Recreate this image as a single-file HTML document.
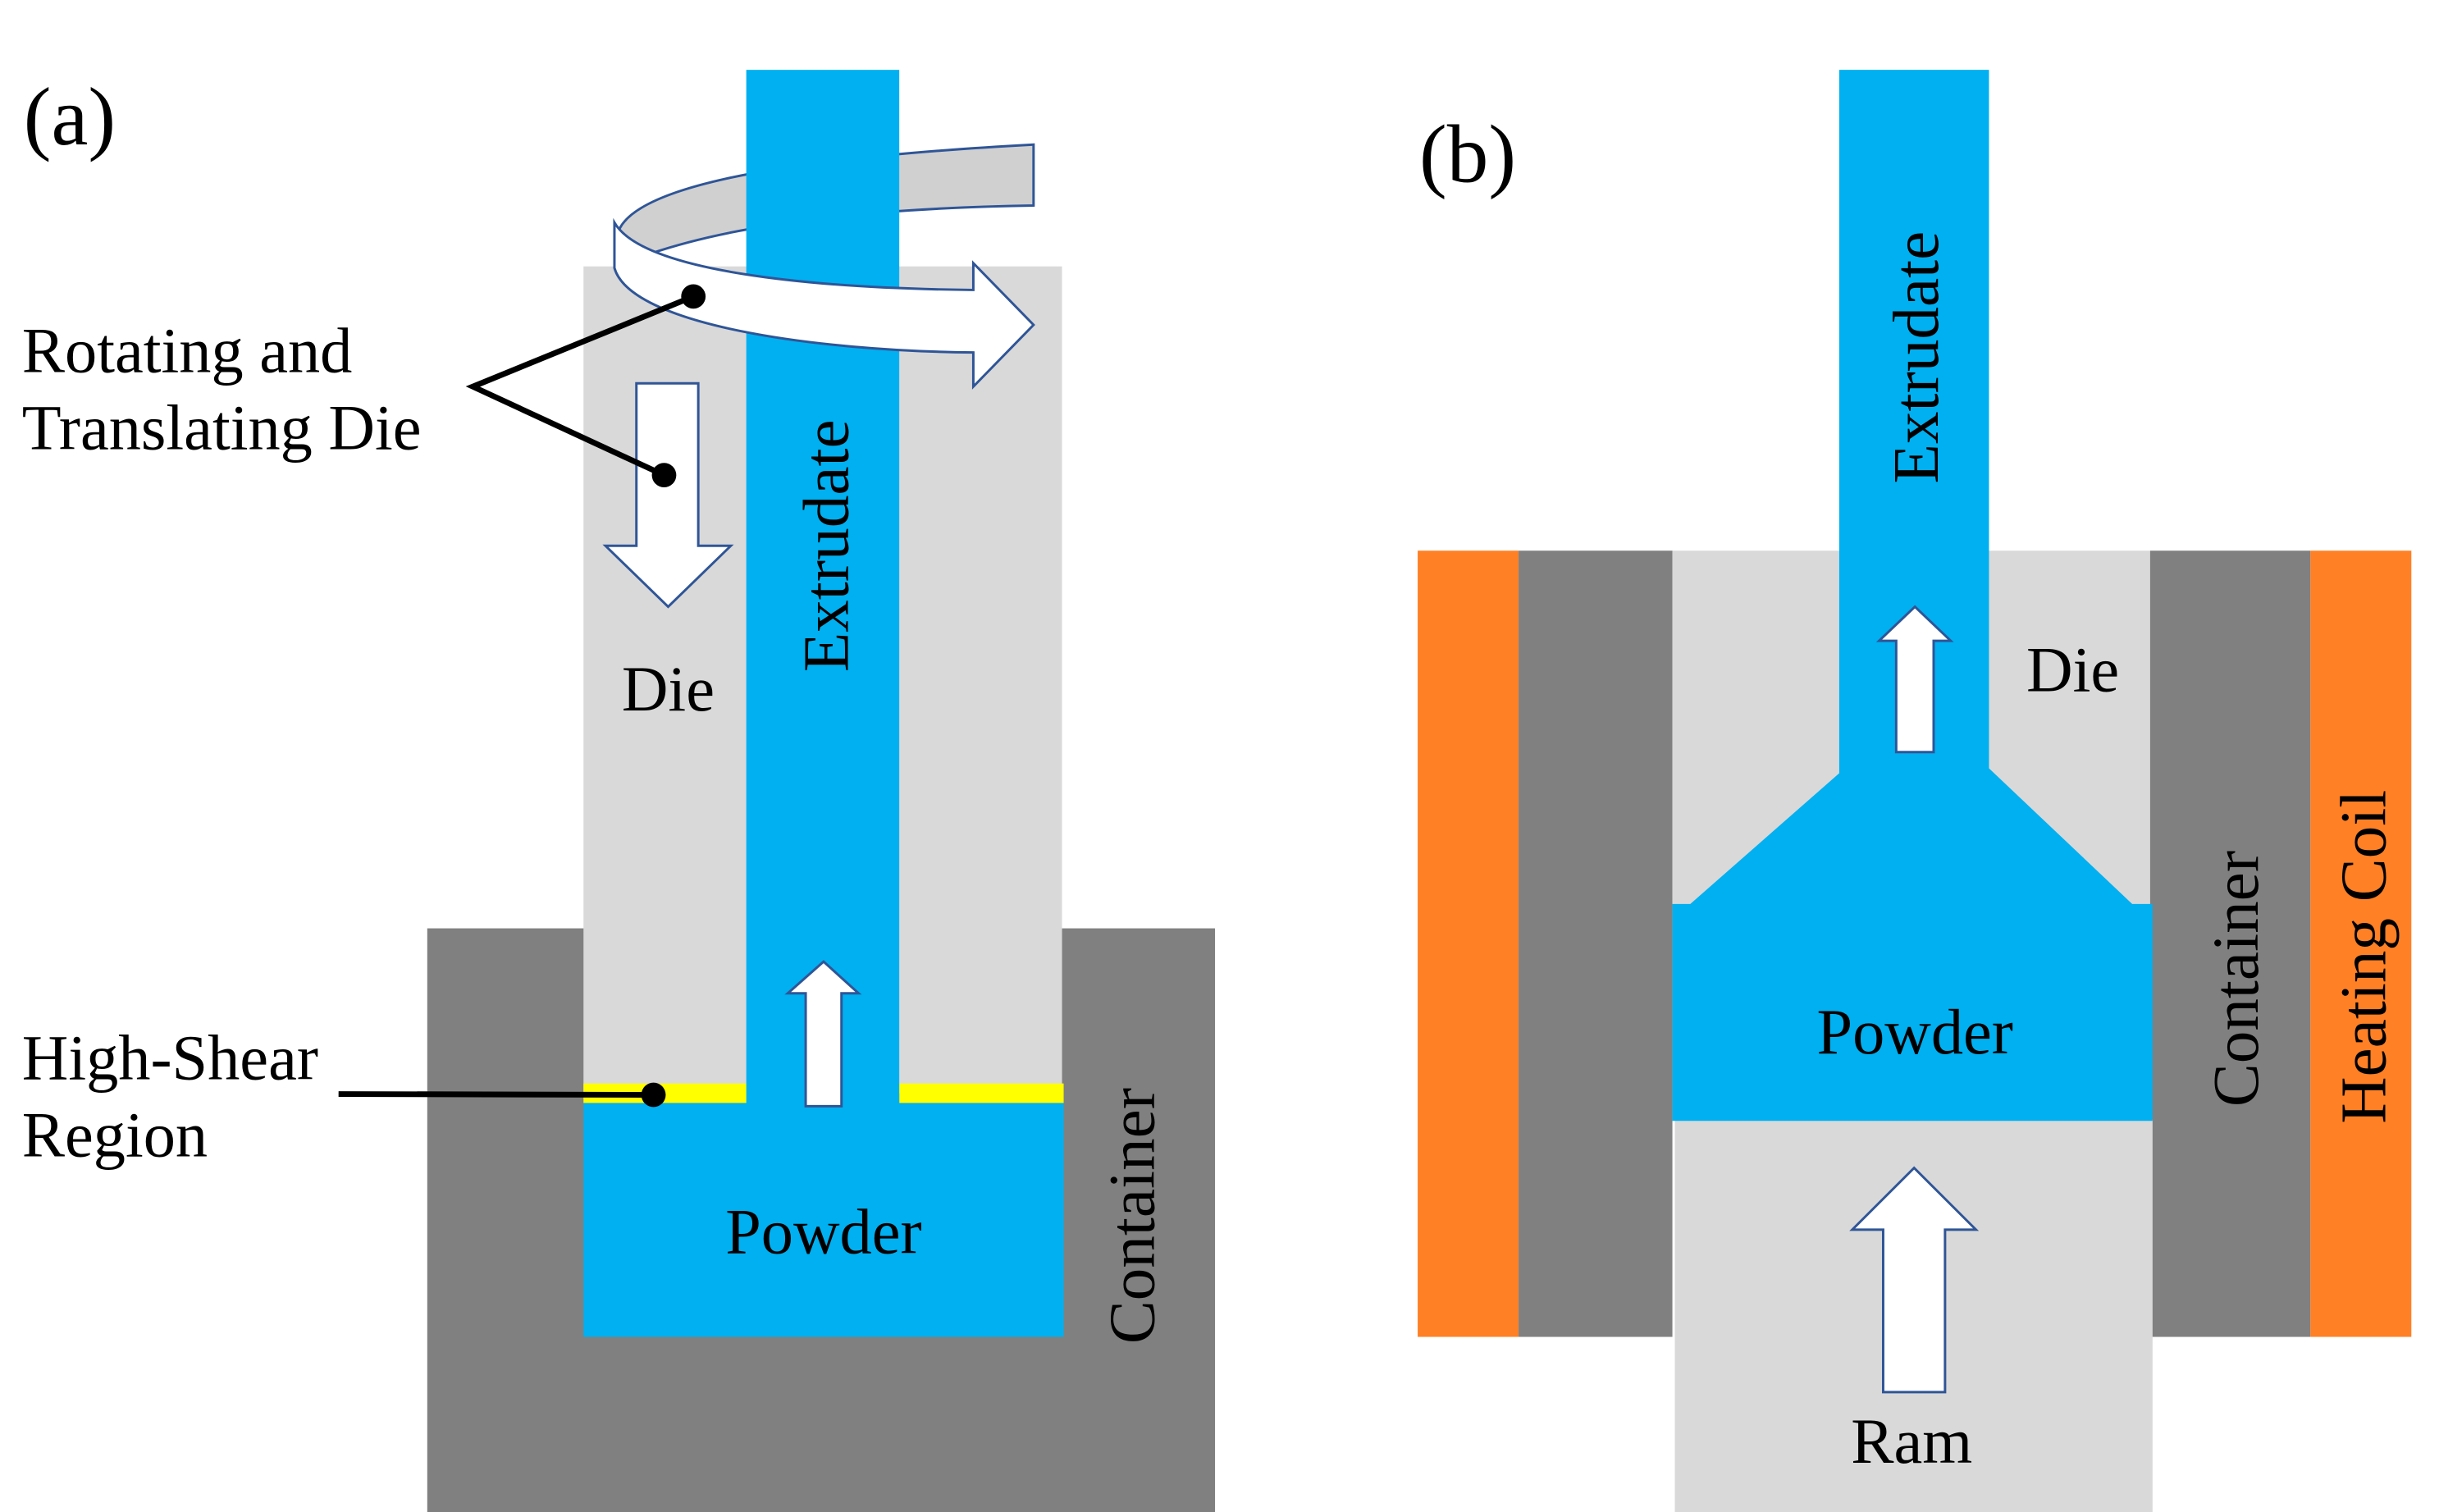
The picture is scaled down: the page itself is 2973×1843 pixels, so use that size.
<!DOCTYPE html>
<html><head><meta charset="utf-8"><style>
html,body{margin:0;padding:0;background:#fff}
svg{display:block}
text{font-family:"Liberation Serif",serif;fill:#000}
</style></head><body>
<svg width="2973" height="1843" viewBox="0 0 2973 1843" xmlns="http://www.w3.org/2000/svg">
<g transform="scale(0.992,0.99)">
<!-- Panel a -->
<rect x="525" y="1143" width="968" height="720" fill="#808080"/>
<rect x="717" y="328" width="588" height="1018" fill="#D9D9D9"/>
<rect x="717" y="1358" width="590" height="288" fill="#00B0F0"/>
<rect x="717" y="1334" width="202" height="24" fill="#FFFF00"/>
<rect x="1105" y="1334" width="202" height="24" fill="#FFFF00"/>
<path d="M1270,178 L1270,253 Q960,258 800,312 L758,292 Q770,205 1270,178 Z" fill="#D0D0D0" stroke="#2F5597" stroke-width="3"/>
<rect x="917" y="86" width="188" height="1274" fill="#00B0F0"/>
<path d="M755,274 L755,330 C775,400 1000,432 1196,434 L1196,476 L1270,400 L1196,324 L1196,357 C1000,355 790,335 755,274 Z" fill="#fff" stroke="#2F5597" stroke-width="3"/>
<path d="M782,472 L858,472 L858,672 L898,672 L821,747 L744,672 L782,672 Z" fill="#fff" stroke="#2F5597" stroke-width="3"/>
<path d="M990,1362 L1034,1362 L1034,1223 L1055,1223 L1012,1184 L968,1223 L990,1223 Z" fill="#fff" stroke="#2F5597" stroke-width="3"/>
<polyline points="852,365 581,476 816,585" fill="none" stroke="#000" stroke-width="7"/>
<circle cx="852" cy="365" r="15"/><circle cx="816" cy="585" r="15"/>
<line x1="416" y1="1347" x2="803" y2="1348" stroke="#000" stroke-width="7"/>
<circle cx="803" cy="1348" r="15"/>
<text x="29" y="178" font-size="102">(a)</text>
<text x="27" y="458" font-size="79">Rotating and</text>
<text x="27" y="553" font-size="79">Translating Die</text>
<text x="27" y="1329" font-size="79">High-Shear</text>
<text x="27" y="1424" font-size="79">Region</text>
<text x="821" y="875" font-size="79" text-anchor="middle">Die</text>
<text x="1012" y="1543" font-size="79" text-anchor="middle">Powder</text>
<text transform="translate(1042,672) rotate(-90)" font-size="80" text-anchor="middle">Extrudate</text>
<text transform="translate(1418,1497) rotate(-90)" font-size="80" text-anchor="middle" fill="#111">Container</text>
<!-- Panel b -->
<g transform="translate(11,0)">
<rect x="1731" y="678" width="124" height="968" fill="#FF8025"/>
<rect x="1855" y="678" width="189" height="968" fill="#808080"/>
<rect x="2044" y="678" width="587" height="440" fill="#D9D9D9"/>
<rect x="2631" y="678" width="197" height="968" fill="#808080"/>
<rect x="2828" y="678" width="124" height="968" fill="#FF8025"/>
<rect x="2047" y="1378" width="587" height="485" fill="#D9D9D9"/>
<path d="M2249,86 L2433,86 L2433,946 L2609,1113 L2634,1113 L2634,1380 L2044,1380 L2044,1113 L2066,1113 L2249,952 Z" fill="#00B0F0"/>
<path d="M2319,926 L2365,926 L2365,789 L2386,789 L2342,747 L2298,789 L2319,789 Z" fill="#fff" stroke="#2F5597" stroke-width="3"/>
<path d="M2303,1714 L2379,1714 L2379,1514 L2417,1514 L2341,1438 L2265,1514 L2303,1514 Z" fill="#fff" stroke="#2F5597" stroke-width="3"/>
<text x="1733" y="224" font-size="102">(b)</text>
<text x="2536" y="851" font-size="79" text-anchor="middle">Die</text>
<text x="2342" y="1297" font-size="79" text-anchor="middle">Powder</text>
<text x="2338" y="1801" font-size="79" text-anchor="middle">Ram</text>
<text transform="translate(2370,440) rotate(-90)" font-size="80" text-anchor="middle">Extrudate</text>
<text transform="translate(2763,1205) rotate(-90)" font-size="80" text-anchor="middle" fill="#111">Container</text>
<text transform="translate(2920,1178) rotate(-90)" font-size="80" text-anchor="middle" fill="#843C0C">Heating Coil</text>
</g>
</g>
</svg>
</body></html>
